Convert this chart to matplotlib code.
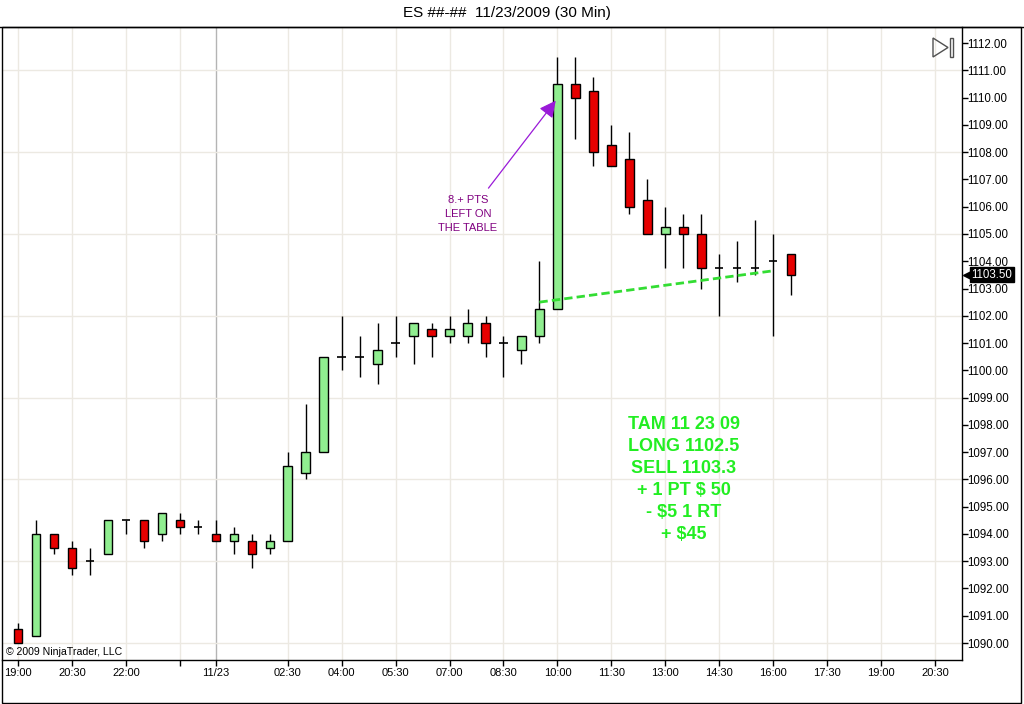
import matplotlib
matplotlib.use("Agg")
import matplotlib.pyplot as plt
import matplotlib.transforms as mtransforms
from matplotlib.patches import Polygon, Rectangle
from matplotlib.lines import Line2D

plt.rcParams["font.family"] = ["Liberation Sans", "DejaVu Sans"]

# 30 min bars, ES 11/23/2009
opens = [1090.5, 1090.25, 1094.0, 1093.5, 1093.0, 1093.25, 1094.5, 1094.5, 1094.0, 1094.5,
         1094.25, 1094.0, 1093.75, 1093.75, 1093.5, 1093.75, 1096.25, 1097.0, 1100.5, 1100.5,
         1100.25, 1101.0, 1101.25, 1101.5, 1101.25, 1101.25, 1101.75, 1101.0, 1100.75, 1101.25,
         1102.25, 1110.5, 1110.25, 1108.25, 1107.75, 1106.25, 1105.0, 1105.25, 1105.0, 1103.75,
         1103.75, 1103.75, 1104.0, 1104.25]
highs = [1090.75, 1094.5, 1094.0, 1093.75, 1093.5, 1094.5, 1094.5, 1094.5, 1094.75, 1094.75,
         1094.5, 1094.5, 1094.25, 1094.0, 1094.0, 1097.0, 1098.75, 1100.5, 1102.0, 1101.25,
         1101.75, 1102.0, 1101.75, 1101.75, 1102.0, 1102.25, 1102.0, 1101.25, 1101.25, 1104.0,
         1111.5, 1111.5, 1110.75, 1109.0, 1108.75, 1107.0, 1106.0, 1105.75, 1105.75, 1104.25,
         1104.75, 1105.5, 1105.0, 1104.25]
lows = [1090.0, 1090.25, 1093.25, 1092.5, 1092.5, 1093.25, 1094.0, 1093.5, 1093.75, 1094.0,
        1094.0, 1093.75, 1093.25, 1092.75, 1093.25, 1093.75, 1096.0, 1097.0, 1100.0, 1099.75,
        1099.5, 1100.5, 1100.25, 1100.5, 1101.0, 1101.0, 1100.5, 1099.75, 1100.25, 1101.0,
        1102.25, 1108.5, 1107.5, 1107.5, 1105.75, 1105.0, 1103.75, 1103.75, 1103.0, 1102.0,
        1103.25, 1103.5, 1101.25, 1102.75]
closes = [1090.0, 1094.0, 1093.5, 1092.75, 1093.0, 1094.5, 1094.5, 1093.75, 1094.75, 1094.25,
          1094.25, 1093.75, 1094.0, 1093.25, 1093.75, 1096.5, 1097.0, 1100.5, 1100.5, 1100.5,
          1100.75, 1101.0, 1101.75, 1101.25, 1101.5, 1101.75, 1101.0, 1101.0, 1101.25, 1102.25,
          1110.5, 1110.0, 1108.0, 1107.5, 1106.0, 1105.0, 1105.25, 1105.0, 1103.75, 1103.75,
          1103.75, 1103.75, 1104.0, 1103.5]

tick_pos = [0, 3, 6, 9, 11, 15, 18, 21, 24, 27, 30, 33, 36, 39, 42, 45, 48, 51]
tick_labels = ["19:00", "20:30", "22:00", "", "11/23", "02:30", "04:00", "05:30", "07:00",
               "08:30", "10:00", "11:30", "13:00", "14:30", "16:00", "17:30", "19:00", "20:30"]
date_break = 11

# trade line (long -> sell)
trade_x = [29, 42]
trade_y = [1102.5, 1103.65]

note_lines = ["TAM 11 23 09", "LONG 1102.5", "SELL 1103.3", "+ 1 PT $ 50", "- $5 1 RT", "+ $45"]

UP = "#90ee90"
DOWN = "#e60000"
GRID = "#ece9e2"

W, H = 1024, 704
fig = plt.figure(figsize=(W / 100, H / 100), dpi=100)
ax = fig.add_axes([2 / W, 1 - 660 / H, 960 / W, 633 / H])

# grid
for p in tick_pos:
    if p != date_break:
        ax.axvline(p, color=GRID, lw=1, zorder=0)
ax.axvline(date_break, color="#b4b4b4", lw=1, zorder=0)
for g in range(1090, 1113, 3):
    ax.axhline(g, color=GRID, lw=1, zorder=0)

# candles
bw = 0.47
for i in range(len(opens)):
    o, h, l, c = opens[i], highs[i], lows[i], closes[i]
    ax.vlines(i, l, h, color="black", lw=1, zorder=2)
    if o == c:
        ax.hlines(c, i - bw / 2, i + bw / 2, color="black", lw=1.2, zorder=3)
    else:
        col = UP if c > o else DOWN
        ax.bar(i, abs(c - o), bottom=min(o, c), width=bw, color=col,
               edgecolor="black", linewidth=1, zorder=3)

ax.plot(trade_x, trade_y, color="#33dd33", lw=2, ls=(0, (3, 1.5)), zorder=4)

# annotation arrow + text
ax.annotate("", xy=(30, 1109.97), xytext=(26.07, 1106.6),
            arrowprops=dict(arrowstyle="-|>,head_length=1.0,head_width=0.5",
                            color="#9a1ad8", lw=0.9), zorder=5)
ax.text(25.02, 1105.75, "8.+ PTS\nLEFT ON\nTHE TABLE", color="#800080", fontsize=8,
        ha="center", va="center", linespacing=1.5, zorder=5)
ax.text(37.04, 1096.0, "\n".join(note_lines), color="#22ee22", fontsize=13,
        fontweight="bold", ha="center", va="center", linespacing=1.38, zorder=5)

ax.text(0.004, 0.004, "\u00a9 2009 NinjaTrader, LLC", transform=ax.transAxes,
        fontsize=7.6, ha="left", va="bottom")

ax.set_xlim(-0.89, 52.5)
ax.set_ylim(1089.377, 1112.59)
ax.set_xticks(tick_pos)
ax.set_xticklabels(tick_labels, fontsize=8)
ax.yaxis.tick_right()
ax.set_yticks(range(1090, 1113))
ax.set_yticklabels([f"{v:.2f}" for v in range(1090, 1113)], fontsize=8.3)
ax.tick_params(axis="x", direction="out", length=4, width=1, color="black", pad=2)
ax.tick_params(axis="y", direction="out", length=4, width=1, color="black", pad=0)
for s in ["top", "left"]:
    ax.spines[s].set_visible(False)
for s in ["bottom", "right"]:
    ax.spines[s].set_linewidth(1)

# last price marker
tr = mtransforms.blended_transform_factory(ax.transAxes, ax.transData)
ax.plot([1.007], [closes[-1]], marker="<", color="black", ms=8, transform=tr, clip_on=False)
ax.text(1.010, closes[-1], f"{closes[-1]:.2f}", transform=tr, color="white", fontsize=8.3,
        ha="left", va="center",
        bbox=dict(boxstyle="square,pad=0.12", fc="black", ec="black"))

# title + outer frame
fig.text(507 / W, 1 - 13 / H, "ES ##-##  11/23/2009 (30 Min)", fontsize=11,
         ha="center", va="center")
fig.add_artist(Line2D([0, 1], [1 - 27 / H] * 2, color="black", lw=1))
fig.add_artist(Rectangle((1.5 / W, 1 - 703 / H), 1019.5 / W, 676 / H, fill=False,
                         ec="black", lw=1, transform=fig.transFigure))

# scroll-to-end icon
px = lambda x, y: (x / W, 1 - y / H)
fig.add_artist(Polygon([px(933, 38), px(948, 47.5), px(933, 57)], closed=True, fill=False,
                       ec="#505050", lw=1, transform=fig.transFigure))
fig.add_artist(Rectangle(px(950, 57), 3 / W, 19 / H, fill=False, ec="#505050", lw=1,
                         transform=fig.transFigure))

fig.savefig("out.png", dpi=100)
